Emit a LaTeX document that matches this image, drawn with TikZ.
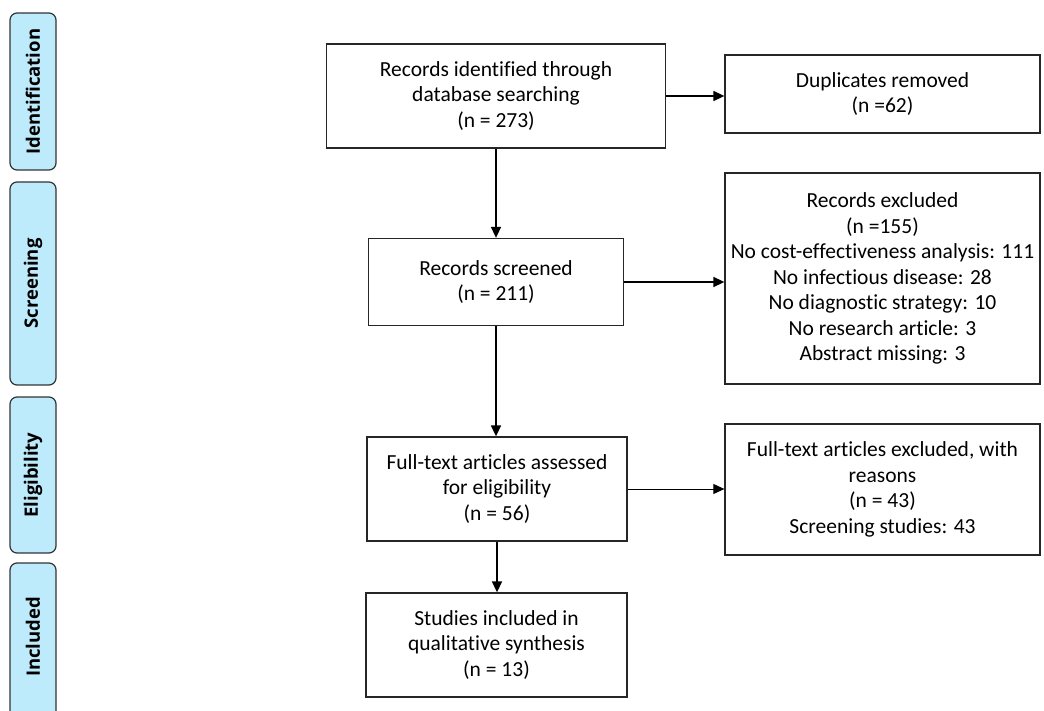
\documentclass[tikz,border=0pt]{standalone}
\usepackage{fontspec}
\setmainfont[Ligatures=NoCommon]{Carlito}
\newfontfamily\sidefont{Open Sans}
\usetikzlibrary{arrows.meta}
\begin{document}
\begin{tikzpicture}[x=1pt,y=-1pt,
  box/.style={draw=black!85,line width=1.3pt,align=center,inner sep=0pt,font=\fontsize{21.5}{25.5}\selectfont},
  side/.style={draw=black!80,line width=1.2pt,fill=sidefill,rounded corners=7pt},
  sidelabel/.style={rotate=90,font=\sidefont\bfseries\fontsize{18.5}{20}\selectfont},
  arr/.style={-{Triangle[length=11pt,width=10pt]},line width=1.6pt,black},
  thinarr/.style={-{Triangle[length=11pt,width=10pt]},line width=0.9pt,black}]
\definecolor{sidefill}{HTML}{BDEBFC}
\useasboundingbox (0,0) rectangle (1044,711);
% sidebar
\draw[side] (10,13) rectangle (56,170);
\node[sidelabel] (lid) at (33,91.5) {Identification};
\draw[side] (10,182) rectangle (56,385);
\node[sidelabel] (lsc) at (33,283.5) {Screening};
\draw[side] (10,397) rectangle (56,553);
\node[sidelabel] (lel) at (33,475) {Eligibility};
\draw[side] (10,563) rectangle (56,730);
\node[sidelabel] (lin) at (33,637) {Included};
% boxes
\node[box,minimum width=339pt,minimum height=104pt] (ident) at (496,96) {Records identified through\\database searching\\(n = 273)};
\node[box,minimum width=315pt,minimum height=78pt] (dup) at (882.5,94) {Duplicates removed\\(n =62)};
\node[box,minimum width=255pt,minimum height=87pt] (scr) at (496,282) {Records screened\\(n = 211)};
\node[box,minimum width=315pt,minimum height=211pt] (exc) at (882.5,278.5) {Records excluded\\(n =155)\\No cost-effectiveness analysis: 111\\No infectious disease: 28\\No diagnostic strategy: 10\\No research article: 3\\Abstract missing: 3};
\node[box,minimum width=260pt,minimum height=104pt] (ft) at (497,489) {Full-text articles assessed\\for eligibility\\(n = 56)};
\node[box,minimum width=315pt,minimum height=131pt] (ftx) at (882.5,489.5) {Full-text articles excluded, with\\reasons\\(n = 43)\\Screening studies: 43};
\node[box,minimum width=261pt,minimum height=104pt] (inc) at (496.5,645) {Studies included in\\qualitative synthesis\\(n = 13)};
% arrows
\draw[arr] (ident.east) -- (dup.west |- ident.east);
\draw[arr] (ident.south) -- (ident.south |- scr.north);
\draw[arr] (scr.east) -- (exc.west |- scr.east);
\draw[arr] (scr.south) -- (scr.south |- ft.north);
\draw[thinarr] (ft.east) -- (ftx.west |- ft.east);
\draw[arr] (ft.south) -- (ft.south |- inc.north);
\end{tikzpicture}
\end{document}
